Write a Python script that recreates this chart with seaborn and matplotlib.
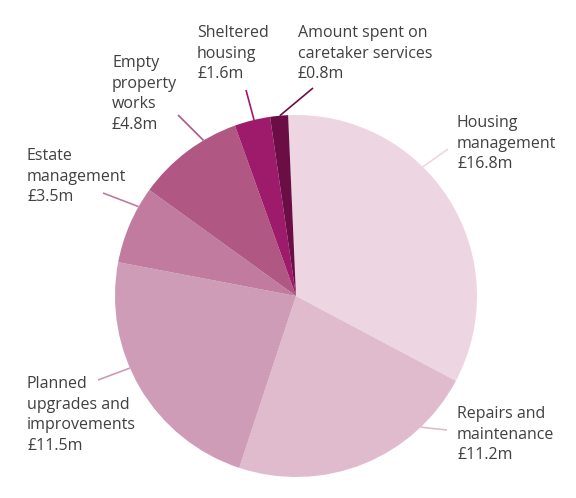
import numpy as np
import matplotlib
matplotlib.use("Agg")
import matplotlib.pyplot as plt
import seaborn as sns

# data (clockwise from the top)
labels = ["Housing\nmanagement", "Repairs and\nmaintenance",
          "Planned\nupgrades and\nimprovements", "Estate\nmanagement",
          "Empty\nproperty\nworks", "Sheltered\nhousing",
          "Amount spent on\ncaretaker services"]
values = [16.8, 11.2, 11.5, 3.5, 4.8, 1.6, 0.8]
colors = ["#EDD6E2", "#DFBBCD", "#CF9CB7", "#C17B9E", "#B05883", "#9E1B6B", "#6B0E46"]

# layout (pixel space of the 576x498 canvas)
label_xy = [(457, 115), (457, 406), (27, 376), (27, 148), (112, 55), (197, 25), (298, 25)]
leader_end = [(448, 149), (447, 430), (98, 380), (103, 193), (178, 115), (246, 90), (313, 88)]
leader_frac = [0.39, 0.23, 0.585, 0.75, 0.68, 0.55, 0.54]
cx, cy, r = 296, 296, 181

sns.set_style("white")
plt.rcParams["font.family"] = ["Open Sans", "DejaVu Sans"]

fig = plt.figure(figsize=(5.76, 4.98), dpi=100)
ax = fig.add_axes([0, 0, 1, 1])

wedges, _ = ax.pie(values, colors=colors, startangle=-92.5, counterclock=True,
                   center=(cx, cy), radius=r, wedgeprops=dict(linewidth=0))
ax.set_xlim(0, 576)
ax.set_ylim(498, 0)
ax.set_aspect("equal")
ax.axis("off")

for w, lab, v, (tx, ty), (ex, ey), f, c in zip(wedges, labels, values, label_xy,
                                               leader_end, leader_frac, colors):
    ang = np.deg2rad(w.theta1 + f * (w.theta2 - w.theta1))
    sx, sy = cx + r * np.cos(ang), cy + r * np.sin(ang)
    ax.plot([sx, ex], [sy, ey], color=c, lw=1.2, solid_capstyle="butt")
    ax.text(tx, ty, f"{lab}\n£{v}m", ha="left", va="top", fontsize=11.5,
            color="#404040", linespacing=1.38)

fig.savefig("out.png", dpi=100)
